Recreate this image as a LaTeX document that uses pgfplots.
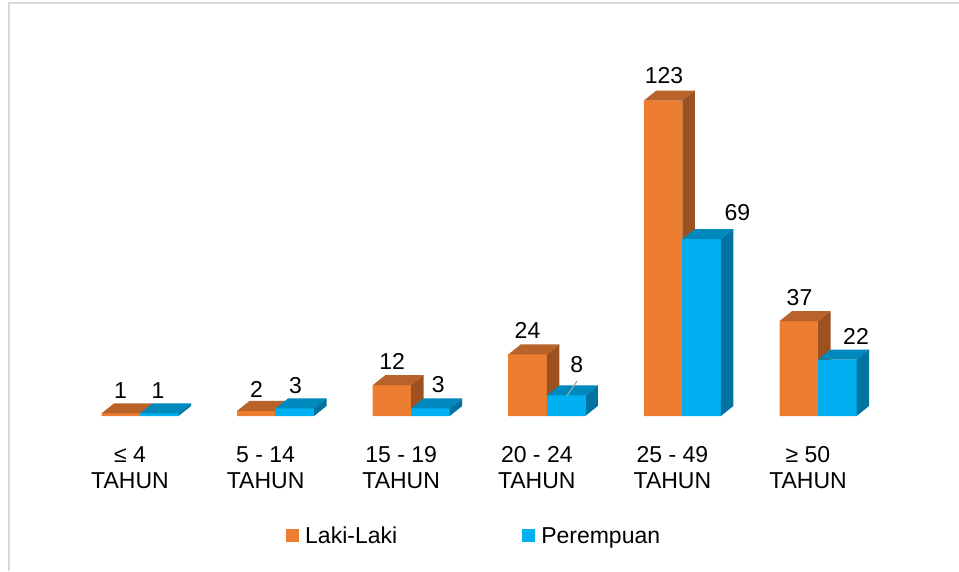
\documentclass[border=0pt]{standalone}
\usepackage{pgfplots}
\pgfplotsset{compat=1.18}
\usepackage{pgfplotstable}
\usepackage{fontspec}
\setmainfont{Liberation Sans}

\definecolor{lakifront}{HTML}{ED7D31}
\definecolor{lakitop}{HTML}{B9632B}
\definecolor{lakiside}{HTML}{9E5120}
\definecolor{perfront}{HTML}{00B0F0}
\definecolor{pertop}{HTML}{0089BC}
\definecolor{perside}{HTML}{0073A0}
\definecolor{bordercol}{HTML}{D9D9D9}
\definecolor{leadercol}{HTML}{A6A6A6}

\newcommand\lbl{\fontsize{23}{26}\selectfont}
\pgfdeclareplotmark{nothing}{}

% x = category, y = value, lx/ly = label offset (pt) from the bar top
\pgfplotstableread{
x y lx ly
0 1 -19.5 23
1 2 -19 21.5
2 12 -19 24
3 24 -19.3 24
4 123 -18.4 25
5 37 -18.5 24
}\laki
\pgfplotstableread{
x y lx ly
0 1 18 23
1 3 20 23
2 3 27 24
3 8 30 31
4 69 55 26
5 22 38 23.6
}\per

\begin{document}
\begin{tikzpicture}
\useasboundingbox (0pt,-155pt) rectangle (959pt,416pt);
\draw[bordercol, line width=2pt] (9pt,-155pt) -- (9pt,413pt) -- (959pt,413pt);
\begin{axis}[
  at={(0pt,0pt)}, anchor=south west,
  x=135.6pt, y=2.565pt,
  xmin=-1.03245, xmax=6.03982, ymin=0, ymax=162.183,
  clip=false,
  axis line style={draw=none},
  tick style={draw=none}, major tick length=0pt,
  ytick=\empty,
  xtick={0,...,5},
  xticklabels={{≤ 4\\TAHUN},{5 - 14\\TAHUN},{15 - 19\\TAHUN},{20 - 24\\TAHUN},{25 - 49\\TAHUN},{≥ 50\\TAHUN}},
  xticklabel style={align=center, font=\lbl, inner sep=0pt, xshift=-10pt, yshift=-30pt},
  /pgf/number format/assume math mode=true,
  legend columns=2,
  legend style={draw=none, fill=none, inner sep=0pt, at={(0.29823,-0.28726)}, anchor=west,
    cells={anchor=west}, nodes={inner sep=0pt, text height=16.5pt, text depth=0pt, font=\lbl},
    /tikz/every odd column/.append style={column sep=6pt},
    /tikz/every even column/.append style={column sep=125pt}},
  labels/.style={forget plot, only marks, mark=nothing, point meta=y,
    visualization depends on={\thisrow{lx}\as\labx},
    visualization depends on={\thisrow{ly}\as\laby},
    nodes near coords,
    every node near coord/.append style={anchor=center, xshift=\labx pt, yshift=\laby pt,
      font=\lbl, text=black, inner sep=0pt}},
]
\addplot[ybar, bar width=38.5pt, bar shift=-19.25pt, fill=lakifront, draw=none,
  legend image code/.code={\fill[lakifront] (0pt,-6.5pt) rectangle (13pt,6.5pt);}]
  table[x=x, y=y] {\laki};
\addlegendentry{Laki-Laki}
\addplot[ybar, bar width=38.5pt, bar shift=19.25pt, fill=perfront, draw=none,
  legend image code/.code={\fill[perfront] (0pt,-6.5pt) rectangle (13pt,6.5pt);}]
  table[x=x, y=y] {\per};
\addlegendentry{Perempuan}

% 3-D boxes: front, top and side faces, drawn bar by bar from the tables
\pgfplotsinvokeforeach{0,...,5}{%
  \pgfplotstablegetelem{#1}{y}\of\laki \let\vl\pgfplotsretval
  \pgfplotstablegetelem{#1}{y}\of\per \let\vp\pgfplotsretval
  \edef\cmd{%
    \noexpand\fill[lakifront] ([xshift=-38.5pt]axis cs:#1,0) rectangle (axis cs:#1,\vl);
    \noexpand\fill[lakitop] ([xshift=-38.5pt]axis cs:#1,\vl) -- (axis cs:#1,\vl)
      -- ([xshift=12.5pt,yshift=10pt]axis cs:#1,\vl) -- ([xshift=-26pt,yshift=10pt]axis cs:#1,\vl) -- cycle;
    \noexpand\fill[lakiside] (axis cs:#1,\vl) -- ([xshift=12.5pt,yshift=10pt]axis cs:#1,\vl)
      -- ([xshift=12.5pt,yshift=10pt]axis cs:#1,0) -- (axis cs:#1,0) -- cycle;
    \noexpand\fill[perfront] (axis cs:#1,0) rectangle ([xshift=38.5pt]axis cs:#1,\vp);
    \noexpand\fill[pertop] (axis cs:#1,\vp) -- ([xshift=38.5pt]axis cs:#1,\vp)
      -- ([xshift=51pt,yshift=10pt]axis cs:#1,\vp) -- ([xshift=12.5pt,yshift=10pt]axis cs:#1,\vp) -- cycle;
    \noexpand\fill[perside] ([xshift=38.5pt]axis cs:#1,\vp) -- ([xshift=51pt,yshift=10pt]axis cs:#1,\vp)
      -- ([xshift=51pt,yshift=10pt]axis cs:#1,0) -- ([xshift=38.5pt]axis cs:#1,0) -- cycle;
  }\cmd
}

\addplot[labels] table[x=x, y=y] {\laki};
\addplot[labels] table[x=x, y=y] {\per};
\draw[leadercol, line width=1.2pt] (axis cs:3.2227,13.65) -- (axis cs:3.149,7.8);
\end{axis}
\end{tikzpicture}
\end{document}
